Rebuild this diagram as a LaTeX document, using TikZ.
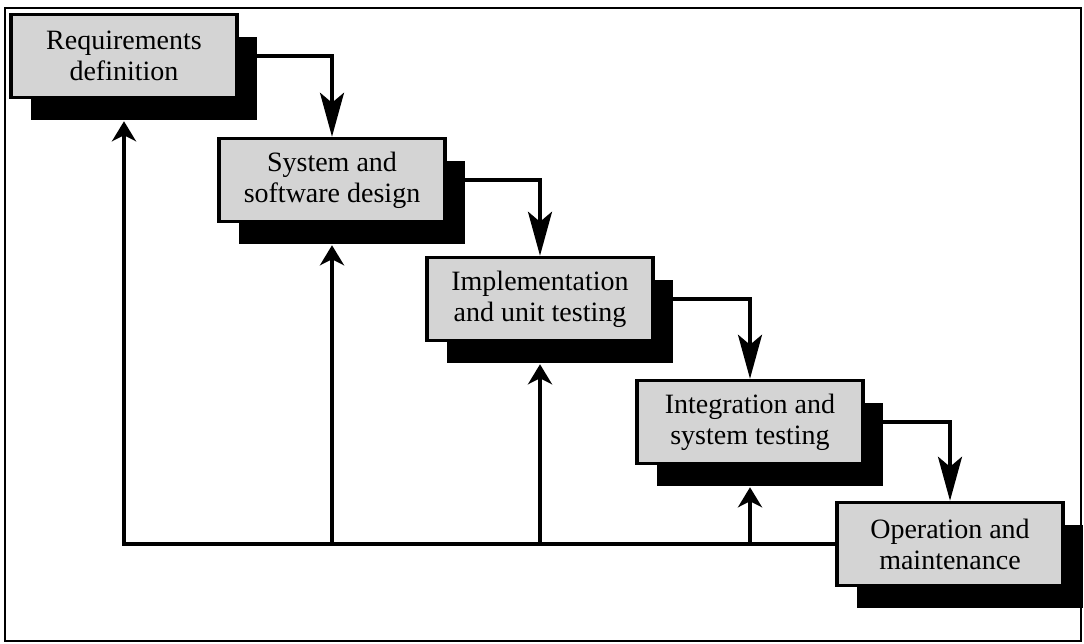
\documentclass[tikz,border=0pt]{standalone}
\usepackage{fontspec}
\setmainfont{Liberation Serif}
\usetikzlibrary{arrows.meta,shadows}

\begin{document}
\begin{tikzpicture}[x=1pt,y=-1pt,
	phase/.style={draw,line width=3.5pt,fill=black!17,minimum width=226pt,minimum height=83pt,align=center,font=\fontsize{28}{31}\selectfont,drop shadow={shadow xshift=20pt,shadow yshift=-22pt,fill=black,opacity=1}},
	flow/.style={line width=3.5pt,-{Stealth[length=44pt,width=24pt,inset=10pt]}},
	back/.style={line width=3.5pt,-{Stealth[length=20pt,width=24pt,inset=6pt]}}]
	\useasboundingbox (0,0) rectangle (1084,643);
	\draw[line width=2pt] (5,8) rectangle (1081,641);

	\node (req) at (124,56) [phase] {Requirements\\definition};
	\node (sys) at (332,180) [phase] {System and\\software design};
	\node (impl) at (540,299) [phase] {Implementation\\and unit testing};
	\node (integ) at (750,422) [phase] {Integration and\\system testing};
	\node (oper) at (950,544) [phase] {Operation and\\maintenance};

	\draw[flow] (req.east) -| (sys.north);
	\draw[flow] (sys.east) -| (impl.north);
	\draw[flow] (impl.east) -| (integ.north);
	\draw[flow] (integ.east) -| (oper.north);
	%feedback
	\draw[back] (oper.west) -| ([yshift=-22pt]req.south);
	\draw[back] (oper.west -| sys) -- ([yshift=-22pt]sys.south);
	\draw[back] (oper.west -| impl) -- ([yshift=-22pt]impl.south);
	\draw[back] (oper.west -| integ) -- ([yshift=-22pt]integ.south);
\end{tikzpicture}
\end{document}
